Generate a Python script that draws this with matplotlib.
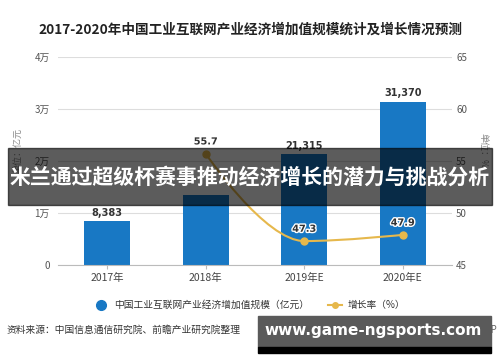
import numpy as np
import matplotlib
matplotlib.use("Agg")
import matplotlib.pyplot as plt
from matplotlib.path import Path
from matplotlib.patches import PathPatch, Rectangle
from matplotlib.lines import Line2D
import matplotlib.patheffects as pe

plt.rcParams['font.family'] = ['Noto Sans CJK SC', 'DejaVu Sans']

# data
years = ['2017年', '2018年', '2019年E', '2020年E']
scale_values = [8383, 13500, 21315, 31370]      # 亿元 (2018 hidden by banner, estimated)
scale_labels = ['8,383', None, '21,315', '31,370']  # 2018 label is covered in the reference
growth_years = [1, 2, 3]
growth_values = [55.7, 47.3, 47.9]              # %
left_ticks = [0, 10000, 20000, 30000, 40000]
left_ticklabels = ['0', '1万', '2万', '3万', '4万']
right_ticks = [45, 50, 55, 60, 65]

BAR = '#1878c4'
LINE = '#e6b84c'
TXT = '#333333'

fig = plt.figure(figsize=(5, 3.62), dpi=100)
ax = fig.add_axes([0.116, 0.268, 0.788, 0.5745])
ax2 = ax.twinx()

x = np.arange(len(years))
ax.bar(x, scale_values, width=0.47, color=BAR, zorder=2)
for xi, v, lab in zip(x, scale_values, scale_labels):
    if lab:
        ax.text(xi, v + 700, lab, ha='center', va='bottom', fontsize=7,
                fontweight='bold', color=TXT, family='DejaVu Sans')

ax.set_xlim(-0.5, 3.5)
ax.set_ylim(0, 40000)
ax.set_yticks(left_ticks)
ax.set_yticklabels(left_ticklabels)
ax.set_xticks(x)
ax.set_xticklabels(years)
ax.grid(axis='y', color='#dddddd', linewidth=0.8, zorder=0)
ax.set_axisbelow(True)
for s in ['top', 'right', 'left']:
    ax.spines[s].set_visible(False)
    ax2.spines[s].set_visible(False)
ax2.spines['bottom'].set_visible(False)
ax.spines['bottom'].set_color('#bbbbbb')
ax.tick_params(axis='y', length=0, labelsize=7, colors='#555555', pad=6)
ax.tick_params(axis='x', length=3, color='#bbbbbb', labelsize=7.5,
               labelcolor='#444444', pad=3)

ax2.set_ylim(45, 65)
ax2.set_yticks(right_ticks)
ax2.tick_params(axis='y', length=0, labelsize=7, colors='#555555', pad=3)

# smooth growth-rate curve (monotone-style bezier through the data points)
pts = np.column_stack([growth_years, growth_values]).astype(float)
sm = 0.4
tang = []
for i in range(len(pts)):
    if i == 0 or i == len(pts) - 1:
        tang.append(np.zeros(2))
        continue
    d = (pts[i + 1] - pts[i - 1]) * sm / 2
    if (pts[i][1] - pts[i - 1][1]) * (pts[i + 1][1] - pts[i][1]) <= 0:
        d[1] = 0.0
    tang.append(d)
verts = [tuple(pts[0])]
codes = [Path.MOVETO]
for i in range(len(pts) - 1):
    verts += [tuple(pts[i] + tang[i]), tuple(pts[i + 1] - tang[i + 1]),
              tuple(pts[i + 1])]
    codes += [Path.CURVE4] * 3
ax2.add_patch(PathPatch(Path(verts, codes), facecolor='none',
                        edgecolor=LINE, linewidth=1.5, zorder=3))
ax2.plot(growth_years, growth_values, 'o', color=LINE, markersize=5, zorder=4)
for xi, v in zip(growth_years, growth_values):
    ax2.text(xi, v + 0.7, f'{v}', ha='center', va='bottom', fontsize=7,
             fontweight='bold', color='#333333', family='DejaVu Sans',
             path_effects=[pe.withStroke(linewidth=2, foreground='white')])

fig.text(0.036, 0.585, '单位：亿元', rotation=90, ha='center', va='center',
         fontsize=6.5, color='#888888')
fig.text(0.966, 0.585, '单位：%', rotation=-90, ha='center', va='center',
         fontsize=6.5, color='#888888')

fig.text(0.5, 0.917, '2017-2020年中国工业互联网产业经济增加值规模统计及增长情况预测',
         ha='center', va='center', fontsize=9.8, fontweight='bold', color='#222222')

handles = [Line2D([], [], marker='o', linestyle='none', color=BAR, markersize=7),
           Line2D([], [], marker='o', color=LINE, markersize=4, linewidth=1.5)]
fig.legend(handles, ['中国工业互联网产业经济增加值规模（亿元）', '增长率（%）'],
           loc='center', bbox_to_anchor=(0.5, 0.157), ncol=2, frameon=False,
           fontsize=7, handlelength=1.4, columnspacing=2.0, handletextpad=0.6,
           labelcolor=TXT)

fig.text(0.014, 0.088, '资料来源：中国信息通信研究院、前瞻产业研究院整理',
         ha='left', va='center', fontsize=7, color=TXT)
fig.text(0.994, 0.088, '@前瞻经济学人APP', ha='right', va='center',
         fontsize=7, color='#666666')

# overlay banner
fig.patches.append(Rectangle((0.016, 1 - 205 / 362), 0.968, 57 / 362,
                             transform=fig.transFigure, color='black',
                             alpha=0.64, zorder=10))
fig.text(0.5, 1 - 177 / 362, '米兰通过超级杯赛事推动经济增长的潜力与挑战分析',
         ha='center', va='center', fontsize=15, fontweight='bold',
         color='white', zorder=11)

# site watermark box
fig.patches.append(Rectangle((258 / 500, 1 - 347 / 362), 233 / 500, 31 / 362,
                             transform=fig.transFigure, color='#5a5a5a', zorder=10))
fig.patches.append(Rectangle((258 / 500, 1 - 353 / 362), 233 / 500, 6 / 362,
                             transform=fig.transFigure, color='black', zorder=10))
fig.text(373 / 500, 1 - 331 / 362, 'www.game-ngsports.com', ha='center',
         va='center', fontsize=11, fontweight='bold', color='white',
         family='DejaVu Sans', zorder=11)

fig.savefig('out.png', dpi=100)
